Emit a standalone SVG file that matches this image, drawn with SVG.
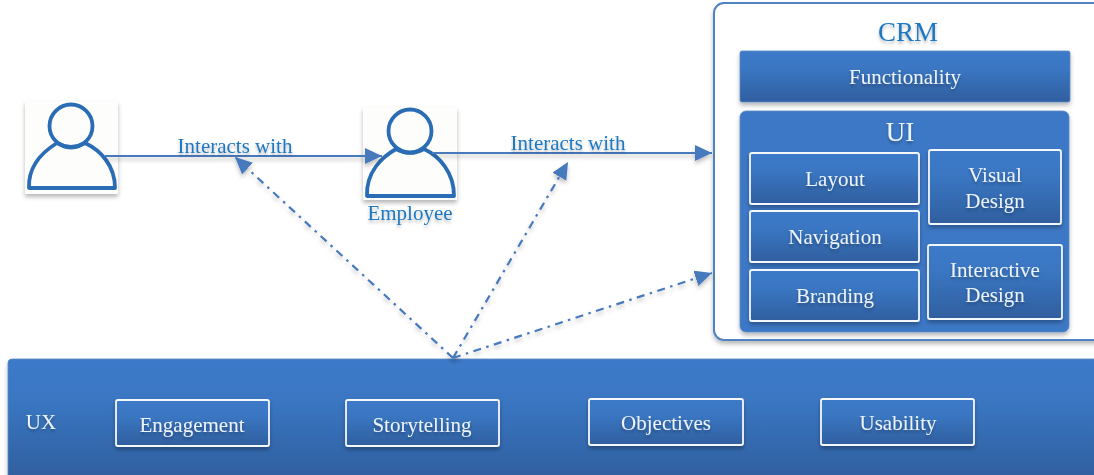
<svg xmlns="http://www.w3.org/2000/svg" width="1094" height="475" viewBox="0 0 1094 475">
<style>
text{font-family:"Liberation Serif","Times New Roman",serif;text-anchor:middle}
.w{fill:#eef3fa;font-size:21px;filter:url(#ts)}
.b{fill:#1f78c1;font-size:21px;filter:url(#ts)}
.big{font-size:27px}
.panel{fill:url(#g);stroke:#5b8ac4;stroke-width:.8;filter:url(#sh)}
.inner{fill:url(#g);stroke:#f4f7fb;stroke-width:1.8;filter:url(#sh)}
.flat{fill:#3c78c6;stroke:#5b8ac4;stroke-width:.8;filter:url(#sh)}
.card{fill:#fdfdfb;filter:url(#sh)}
.ic{fill:none;stroke:#2a6db5;stroke-width:3.8;stroke-linejoin:round}
.solid{fill:none;stroke:#4679bd;stroke-width:2.2;filter:url(#ls)}
.dd{fill:none;stroke:#4679bd;stroke-width:2.2;stroke-dasharray:8 5.5 2.5 5.5;filter:url(#ls)}
</style>
<defs>
<linearGradient id="g" x1="0" y1="0" x2="0" y2="1"><stop offset="0" stop-color="#3c7ac9"/><stop offset=".35" stop-color="#3a76c2"/><stop offset="1" stop-color="#2f5f9f"/></linearGradient>
<filter id="sh" x="-20%" y="-20%" width="140%" height="140%"><feDropShadow dx="0" dy="3" stdDeviation="2.2" flood-color="#000" flood-opacity=".28"/></filter>
<filter id="ls" filterUnits="userSpaceOnUse" x="0" y="0" width="1094" height="475"><feDropShadow dx="0" dy="3" stdDeviation="2.2" flood-color="#000" flood-opacity=".25"/></filter>
<filter id="ts" x="-10%" y="-20%" width="120%" height="150%"><feDropShadow dx="0" dy="2.5" stdDeviation="1.6" flood-color="#000" flood-opacity=".28"/></filter>
<marker id="a" markerUnits="userSpaceOnUse" markerWidth="20" markerHeight="18" refX="17" refY="8" orient="auto"><path d="M0 0L17 8L0 16Z" fill="#4679bd"/></marker>
</defs>

<g id="crm">
<rect x="714" y="3" width="395" height="337" rx="10" fill="#fff" stroke="#4f83c2" stroke-width="2" filter="url(#sh)"/>
<text class="b big" x="908" y="41">CRM</text>
</g>
<g id="functionality"><rect class="panel" x="740" y="51" width="330" height="51" rx="2"/><text class="w" x="905" y="84">Functionality</text></g>
<g id="ui"><rect class="flat" x="740" y="111" width="329" height="221" rx="6"/><text class="w big" x="900" y="141">UI</text></g>
<g id="layout"><rect class="inner" x="750" y="153" width="169" height="51" rx="2"/><text class="w" x="835" y="186">Layout</text></g>
<g id="visual-design"><rect class="inner" x="929" y="150" width="132" height="74" rx="2"/><text class="w" x="995" y="182">Visual</text><text class="w" x="995" y="208">Design</text></g>
<g id="navigation"><rect class="inner" x="750" y="211" width="169" height="51" rx="2"/><text class="w" x="835" y="244">Navigation</text></g>
<g id="branding"><rect class="inner" x="750" y="270" width="169" height="51" rx="2"/><text class="w" x="835" y="303">Branding</text></g>
<g id="interactive-design"><rect class="inner" x="928" y="245" width="134" height="74" rx="2"/><text class="w" x="995" y="277">Interactive</text><text class="w" x="995" y="302">Design</text></g>

<g id="ux"><rect class="panel" x="8" y="359" width="1100" height="120" rx="4"/><text class="w" x="41" y="429">UX</text></g>
<g id="engagement"><rect class="inner" x="116" y="400" width="153" height="46" rx="2"/><text class="w" x="192" y="432">Engagement</text></g>
<g id="storytelling"><rect class="inner" x="346" y="400" width="153" height="46" rx="2"/><text class="w" x="422" y="432">Storytelling</text></g>
<g id="objectives"><rect class="inner" x="589" y="399" width="154" height="46" rx="2"/><text class="w" x="666" y="430">Objectives</text></g>
<g id="usability"><rect class="inner" x="821" y="399" width="153" height="46" rx="2"/><text class="w" x="898" y="430">Usability</text></g>

<g id="user">
<rect class="card" x="25" y="101" width="93" height="93"/>
<circle class="ic" cx="71" cy="126" r="21.5"/>
<path class="ic" d="M29 188C28 165 44 151 57 143C66 148 76 148 85 143C100 150 115 165 115 188Z"/>
</g>
<g id="employee">
<rect class="card" x="363" y="107" width="94" height="93"/>
<circle class="ic" cx="410" cy="131" r="21.5"/>
<path class="ic" d="M367 196C366 172 382 157 396 149C405 154 415 154 424 149C439 156 454 172 454 196Z"/>
<text class="b" x="410" y="220">Employee</text>
</g>

<g id="connectors">
<path class="solid" d="M105 156H382" marker-end="url(#a)"/>
<path class="solid" d="M432 153H712" marker-end="url(#a)"/>
<path class="dd" d="M453 358L235 157" marker-end="url(#a)"/>
<path class="dd" d="M453 358L568 162" marker-end="url(#a)"/>
<path class="dd" d="M453 358L712 273" marker-end="url(#a)"/>
</g>
<g id="labels">
<text class="b" x="235" y="153">Interacts with</text>
<text class="b" x="568" y="150">Interacts with</text>
</g>
</svg>
